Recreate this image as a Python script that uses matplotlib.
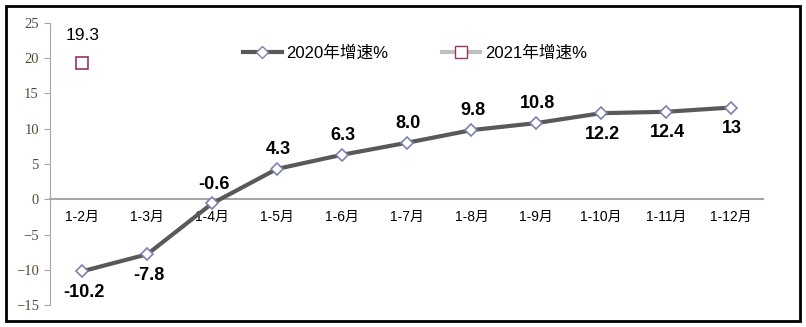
import matplotlib
matplotlib.use("Agg")
import matplotlib.pyplot as plt
from matplotlib.lines import Line2D
from matplotlib.patches import Rectangle

months = ["1-2月", "1-3月", "1-4月", "1-5月", "1-6月", "1-7月",
          "1-8月", "1-9月", "1-10月", "1-11月", "1-12月"]
growth_2020 = [-10.2, -7.8, -0.6, 4.3, 6.3, 8.0, 9.8, 10.8, 12.2, 12.4, 13]
labels_2020 = ["-10.2", "-7.8", "-0.6", "4.3", "6.3", "8.0", "9.8", "10.8", "12.2", "12.4", "13"]
label_below = [True, True, False, False, False, False, False, False, True, True, True]
growth_2021 = [19.3]
labels_2021 = ["19.3"]

plt.rcParams["font.family"] = ["Liberation Sans", "Noto Sans CJK SC", "DejaVu Sans"]
tick_font = ["Liberation Serif", "Noto Sans CJK SC"]

fig = plt.figure(figsize=(8.06, 3.27), dpi=100)
ax = fig.add_axes([0.062, 0.067, 0.885, 0.863])

x = list(range(len(months)))
ax.plot(x, growth_2020, color="#595959", lw=3, marker="D", ms=6.5,
        mfc="white", mec="#8080b0", mew=1.2, zorder=3)
ax.plot(x[:len(growth_2021)], growth_2021, ls="none", marker="s", ms=9,
        mfc="white", mec="#993366", mew=1.2, zorder=3)

for xi, v, t, below in zip(x, growth_2020, labels_2020, label_below):
    ax.annotate(t, (xi, v), xytext=(1, -15 if below else 14),
                textcoords="offset points", ha="center", va="center",
                fontsize=13, fontweight="bold", color="black")
for xi, v, t in zip(x, growth_2021, labels_2021):
    ax.annotate(t, (xi, v), xytext=(0, 20), textcoords="offset points",
                ha="center", va="center", fontsize=12.5, color="black")

ax.set_xlim(-0.5, len(months) - 0.5)
ax.set_ylim(-15, 25)
ax.set_yticks(range(-15, 26, 5))
ax.set_yticklabels([str(v).replace("-", "−") for v in range(-15, 26, 5)],
                   family=tick_font, fontsize=10.5, color="#5a4a3a")
ax.set_xticks(x)
ax.set_xticklabels(months, family=tick_font, fontsize=10.5, color="#4a4a5a")

for s in ["top", "right"]:
    ax.spines[s].set_visible(False)
ax.spines["left"].set_color("#a6a6a6")
ax.spines["bottom"].set_position(("data", 0))
ax.spines["bottom"].set_color("#a6a6a6")
ax.spines["bottom"].set_linewidth(1.5)
ax.tick_params(axis="y", direction="out", length=4, color="#a6a6a6", pad=4)
ax.tick_params(axis="x", length=0, pad=8)

handles = [
    Line2D([], [], color="#595959", lw=3, marker="D", ms=6, mfc="white", mec="#8080b0"),
    Line2D([], [], color="#bfbfbf", lw=3, marker="s", ms=9, mfc="white", mec="#993366"),
]
ax.legend(handles, ["2020年增速%", "2021年增速%"], loc="upper center",
          bbox_to_anchor=(0.512, 0.975), ncol=2, frameon=False, fontsize=12,
          handlelength=2.3, columnspacing=3.2, handletextpad=0.3)

fig.patches.append(Rectangle((0.008, 0.018), 0.984, 0.965, transform=fig.transFigure,
                             fill=False, ec="black", lw=2))

fig.savefig("out.png", dpi=100)
